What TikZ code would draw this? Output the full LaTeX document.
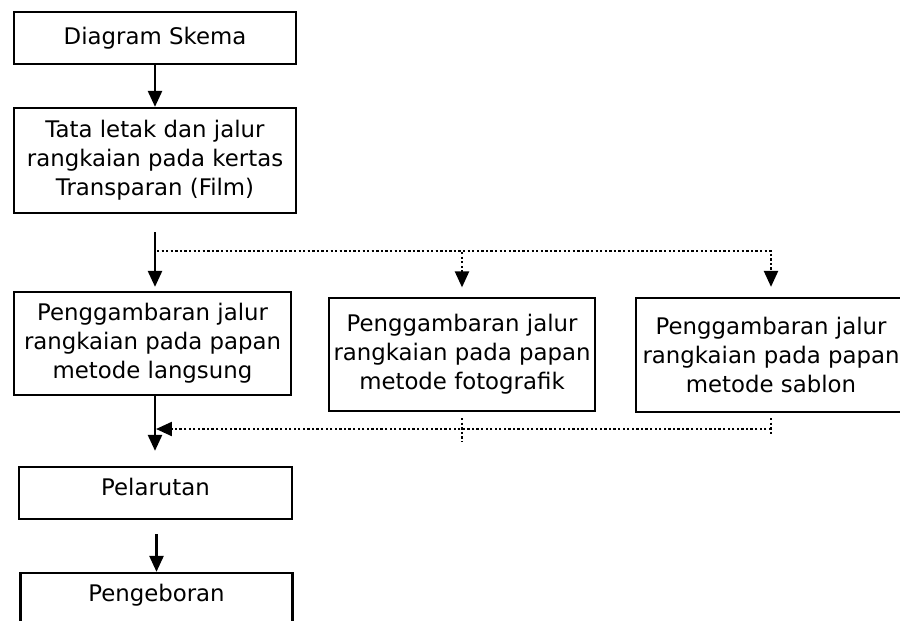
\documentclass[tikz,border=0pt]{standalone}
\usepackage{fontspec}
\setmainfont{DejaVu Sans}
\usetikzlibrary{arrows.meta}

\begin{document}
\begin{tikzpicture}[
  x=0.02cm, y=-0.02cm,
  box/.style={draw=black, fill=white, line width=1.3pt, inner sep=0pt, align=center, font=\fontsize{13}{16.5}\selectfont},
  onebox/.style={box, text height=10pt, text depth=7.5pt},
  flow/.style={line width=1.4pt, -{Triangle[width=0.28cm, length=0.32cm]}},
  dotline/.style={line width=1.3pt, dash pattern=on 1.3pt off 1.3pt},
  dotflow/.style={dotline, -{Triangle[width=0.28cm, length=0.32cm]}}
]
  \fill[white] (0,0) rectangle (900,620);
  \path[use as bounding box, clip] (0,0) rectangle (900,620);

  \node[box, minimum width=5.64cm, minimum height=1.04cm] (skema) at (155, 38) {Diagram Skema};
  \node[box, minimum width=5.64cm, minimum height=2.1cm] (tata) at (155, 160.5) {Tata letak dan jalur\\rangkaian pada kertas\\Transparan (Film)};
  \node[box, minimum width=5.54cm, minimum height=2.06cm] (langsung) at (152.5, 343.5) {Penggambaran jalur\\rangkaian pada papan\\metode langsung};
  \node[box, minimum width=5.32cm, minimum height=2.26cm] (foto) at (462, 354.5) {Penggambaran jalur\\rangkaian pada papan\\metode fotografik};
  \node[box, minimum width=5.4cm, minimum height=2.28cm] (sablon) at (771, 355) {Penggambaran jalur\\rangkaian pada papan\\metode sablon};
  \node[onebox, minimum width=5.46cm, minimum height=1.04cm] (pelarutan) at (155.5, 493) {Pelarutan};
  \node[onebox, minimum width=5.44cm, minimum height=1.04cm] (pengeboran) at (156.5, 599) {Pengeboran};

  \coordinate (trunk) at (155, 232);
  \coordinate (fork) at (157, 251);
  \coordinate (merge) at (771, 429);

  \draw[flow] (skema) -- (tata);
  \draw[flow, shorten >=0.08cm] (trunk) -- (trunk |- langsung.north);
  \draw[dotflow, shorten >=0.19cm] (fork) -| (foto.north);
  \draw[dotflow, shorten >=0.2cm] (fork) -| (sablon.north);
  \draw[flow, shorten >=0.3cm] (langsung.south -| trunk) -- (trunk |- pelarutan.north);
  \draw[dotflow, shorten >=0.02cm] (merge) -- (merge -| trunk);
  \draw[dotline] ([yshift=-0.12cm]foto.south) -- ++(0, 23);
  \draw[dotline] ([yshift=-0.1cm]sablon.south) -- ++(0, 17);
  \draw[flow] ([yshift=-0.28cm]pelarutan.south -| pengeboran.north) -- (pengeboran.north);
\end{tikzpicture}
\end{document}
